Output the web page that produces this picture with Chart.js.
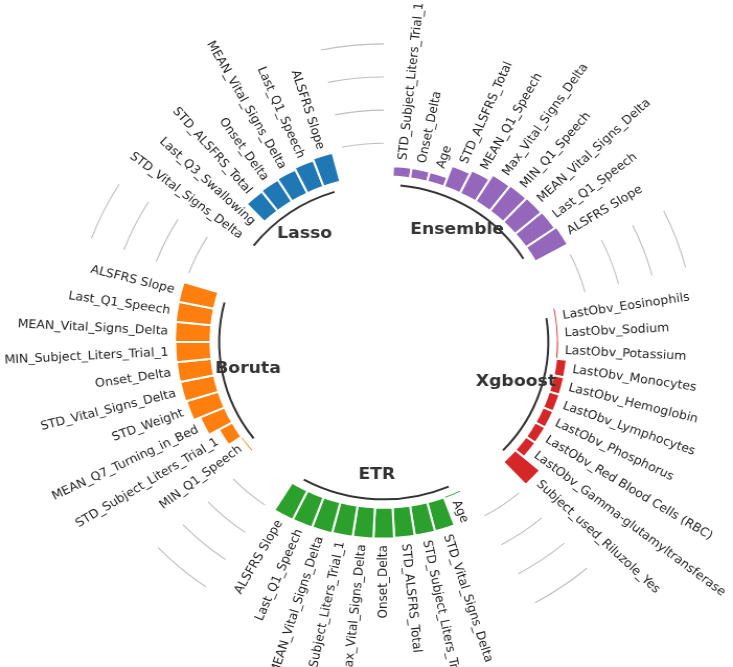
<!DOCTYPE html>
<html>
<head>
<meta charset="utf-8">
<script src="https://cdn.jsdelivr.net/npm/chart.js@4/dist/chart.umd.min.js"></script>
<style>
html,body{margin:0;padding:0;background:#ffffff;overflow:hidden}
#c{display:block}
</style>
</head>
<body>
<canvas id="c" width="701" height="667" style="width:733px;height:667px"></canvas>
<script>
// ---------------- data (clockwise order inside each group) ----------------
const groupNames  = ["Ensemble", "Xgboost", "ETR", "Boruta", "Lasso"];
const groupColors = ["#9467bd", "#d62728", "#2ca02c", "#ff7f0e", "#1f77b4"];

const ensembleLabels = ["STD_Subject_Liters_Trial_1","Onset_Delta","Age","STD_ALSFRS_Total","MEAN_Q1_Speech",
  "Max_Vital_Signs_Delta","MIN_Q1_Speech","MEAN_Vital_Signs_Delta","Last_Q1_Speech","ALSFRS Slope"];
const ensembleValues = [6.3, 6.2, 6.0, 13.5, 15.5, 19.0, 19.5, 20.0, 20.5, 21.5];

const xgboostLabels = ["LastObv_Eosinophils","LastObv_Sodium","LastObv_Potassium","LastObv_Monocytes",
  "LastObv_Hemoglobin","LastObv_Lymphocytes","LastObv_Phosphorus","LastObv_Red Blood Cells (RBC)",
  "LastObv_Gamma-glutamyltransferase","Subject_used_Riluzole_Yes"];
const xgboostValues = [0.5, 0.5, 0.6, 6.2, 6.3, 6.4, 6.5, 6.6, 6.7, 19.0];

const etrLabels = ["Age","STD_Vital_Signs_Delta","STD_Subject_Liters_Trial_1","STD_ALSFRS_Total","Onset_Delta",
  "Max_Vital_Signs_Delta","MIN_Subject_Liters_Trial_1","MEAN_Vital_Signs_Delta","Last_Q1_Speech","ALSFRS Slope"];
const etrValues = [0.5, 18.0, 18.2, 18.4, 18.6, 18.8, 19.0, 19.2, 19.4, 19.6];

const borutaLabels = ["MIN_Q1_Speech","STD_Subject_Liters_Trial_1","MEAN_Q7_Turning_in_Bed","STD_Weight",
  "STD_Vital_Signs_Delta","Onset_Delta","MIN_Subject_Liters_Trial_1","MEAN_Vital_Signs_Delta","Last_Q1_Speech","ALSFRS Slope"];
const borutaValues = [0.5, 9.0, 15.5, 19.5, 20.0, 20.2, 20.4, 20.6, 20.8, 21.0];

const lassoLabels = ["STD_Vital_Signs_Delta","Last_Q3_Swallowing","STD_ALSFRS_Total","Onset_Delta",
  "MEAN_Vital_Signs_Delta","Last_Q1_Speech","ALSFRS Slope"];
const lassoValues = [0, 0, 15.0, 15.5, 16.0, 17.0, 18.0];

const referenceValues = [20, 40, 60, 80];
const PAD = 3;

// ---------------- build slot arrays ----------------
const groupLabelLists = [ensembleLabels, xgboostLabels, etrLabels, borutaLabels, lassoLabels];
const groupValueLists = [ensembleValues, xgboostValues, etrValues, borutaValues, lassoValues];
const slotLabels = [], slotValues = [], slotColors = [], slotGroup = [];
groupNames.forEach((g, gi) => {
  for (let p = 0; p < PAD; p++) {
    slotLabels.push(""); slotValues.push(null); slotColors.push("rgba(0,0,0,0)"); slotGroup.push(-1);
  }
  groupLabelLists[gi].forEach((lab, i) => {
    slotLabels.push(lab); slotValues.push(groupValueLists[gi][i]);
    slotColors.push(groupColors[gi]); slotGroup.push(gi);
  });
});
const SLOT_DEG = 360 / slotValues.length;

// ---------------- controller: bars start at value 0 ----------------
class RingBarController extends Chart.PolarAreaController {
  updateElement(element, index, properties, mode) {
    if (properties && 'outerRadius' in properties) {
      const base = this._cachedMeta.rScale.getDistanceFromCenterForValue(0);
      properties.innerRadius = base;
      if (!(properties.outerRadius >= base)) properties.outerRadius = base;
    }
    super.updateElement(element, index, properties, mode);
  }
}
RingBarController.id = 'ringBar';
RingBarController.defaults = Chart.PolarAreaController.defaults;
RingBarController.overrides = Chart.PolarAreaController.overrides;
Chart.register(RingBarController);

// ---------------- decorations plugin ----------------
const ringDecor = {
  id: 'ringDecor',
  afterDatasetsDraw(chart) {
    const meta = chart.getDatasetMeta(0);
    const scale = chart.scales.r;
    const cx = scale.xCenter, cy = scale.yCenter;
    const ctx = chart.ctx;
    const mid = i => (meta.data[i].startAngle + meta.data[i].endAngle) / 2;
    const rad = v => scale.getDistanceFromCenterForValue(v);
    ctx.save();

    // labels
    ctx.font = '12px "DejaVu Sans"';
    ctx.fillStyle = '#222222';
    ctx.textBaseline = 'middle';
    slotLabels.forEach((lab, i) => {
      if (slotGroup[i] < 0) return;
      const a = mid(i);
      const r = rad(slotValues[i] + 4);
      const x = cx + r * Math.cos(a), y = cy + r * Math.sin(a);
      let deg = (a * 180 / Math.PI + 90) % 360; if (deg < 0) deg += 360;
      ctx.save();
      ctx.translate(x, y);
      if (deg < 179.9) { ctx.rotate(a); ctx.textAlign = 'left'; }
      else { ctx.rotate(a + Math.PI); ctx.textAlign = 'right'; }
      ctx.fillText(lab, 0, 0);
      ctx.restore();
    });

    // group lines, names and reference lines
    groupNames.forEach((g, gi) => {
      const idx = [];
      slotGroup.forEach((s, i) => { if (s === gi) idx.push(i); });
      const first = idx[0], last = idx[idx.length - 1];
      const g0 = first - PAD, g1 = first - 1;
      ctx.strokeStyle = '#bebebe';
      ctx.lineWidth = 1.1;
      referenceValues.forEach(v => {
        ctx.beginPath();
        ctx.arc(cx, cy, rad(v), mid(g0), mid(g1));
        ctx.stroke();
      });
      ctx.strokeStyle = '#333333';
      ctx.lineWidth = 2;
      ctx.beginPath();
      ctx.arc(cx, cy, rad(-5), mid(first), mid(last));
      ctx.stroke();
      const am = (mid(first) + mid(last)) / 2;
      const rt = rad(-20);
      ctx.font = 'bold 16.5px "DejaVu Sans"';
      ctx.fillStyle = '#333333';
      ctx.textAlign = 'center';
      ctx.textBaseline = 'middle';
      ctx.fillText(g, cx + rt * Math.cos(am), cy + rt * Math.sin(am));
    });
    ctx.restore();
  }
};

new Chart(document.getElementById('c'), {
  type: 'ringBar',
  data: {
    labels: slotLabels,
    datasets: [{
      data: slotValues,
      backgroundColor: slotColors,
      borderColor: '#ffffff',
      borderWidth: ctx => {
        const v = slotValues[ctx.dataIndex];
        return (v === null || v < 1.5) ? 0 : 2;
      }
    }]
  },
  options: {
    responsive: false,
    devicePixelRatio: 1,
    animation: false,
    layout: { padding: { left: 44, right: 11, top: 19, bottom: 2 } },
    plugins: { legend: { display: false }, tooltip: { enabled: false } },
    scales: {
      r: {
        min: -100,
        max: 95,
        startAngle: -2.5 * SLOT_DEG,
        ticks: { display: false },
        grid: { display: false },
        angleLines: { display: false },
        pointLabels: { display: false }
      }
    }
  },
  plugins: [ringDecor]
});
</script>
</body>
</html>
